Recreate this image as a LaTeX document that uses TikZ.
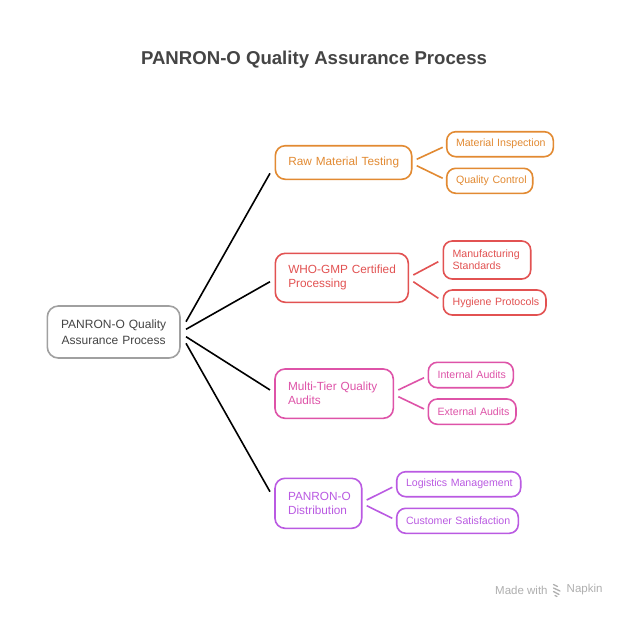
\documentclass[tikz,border=0pt]{standalone}
\usepackage{fontspec}
\setmainfont{Liberation Sans}
\usetikzlibrary{calc}
\definecolor{cOr}{RGB}{226,138,50}
\definecolor{cRd}{RGB}{226,82,82}
\definecolor{cPk}{RGB}{222,83,168}
\definecolor{cPu}{RGB}{186,90,226}
\definecolor{cGy}{RGB}{160,160,160}
\definecolor{cTx}{RGB}{68,68,68}
\definecolor{cWm}{RGB}{175,175,175}
\tikzset{
  cat/.style={draw=#1, text=#1, line width=1.6pt, rounded corners=10pt, anchor=north west,
    align=left, inner ysep=0pt, inner xsep=13pt, outer sep=0pt,
    font=\fontsize{11.8}{14}\selectfont},
  leaf/.style={draw=#1, text=#1, line width=1.6pt, rounded corners=9pt, anchor=north west,
    align=left, inner ysep=0pt, inner xsep=9.3pt, outer sep=0pt,
    font=\fontsize{10.6}{11.7}\selectfont},
  rootbox/.style={draw=cGy, text=cTx, line width=1.6pt, rounded corners=11pt, anchor=north west,
    align=center, inner ysep=0pt, inner xsep=0pt, outer sep=0pt,
    font=\fontsize{12}{15.7}\selectfont},
  trunk/.style={line width=1.6pt, black},
  twig/.style={line width=1.6pt, draw=#1},
}
\begin{document}
\begin{tikzpicture}[x=1pt,y=-1pt]
\path[use as bounding box, fill=white] (0,0) rectangle (628,618);

\node[font=\bfseries\fontsize{18.6}{22}\selectfont, text=cTx] (title) at (314,60) {PANRON-O Quality Assurance Process};

\node[rootbox, minimum width=132.7pt, minimum height=52pt, text width=132.7pt] (root) at (47.3,306) {PANRON-O Quality\\Assurance Process};

\node[cat=cOr, minimum height=33.6pt, text width=110.4pt] (raw) at (275.3,145.7) {\mbox{Raw Material Testing}};
\node[leaf=cOr, minimum height=25pt, text width=88pt] (matins) at (446.7,131.7) {\mbox{Material Inspection}};
\node[leaf=cOr, minimum height=25pt, text width=67.4pt] (qc) at (446.7,168.3) {\mbox{Quality Control}};

\node[cat=cRd, minimum height=49pt, text width=107pt] (who) at (275.3,253.3) {\mbox{WHO-GMP Certified}\\\mbox{Processing}};
\node[leaf=cRd, minimum height=38pt, text width=68.8pt] (manuf) at (443.3,241) {\mbox{Manufacturing}\\\mbox{Standards}};
\node[leaf=cRd, minimum height=25pt, text width=84.1pt] (hyg) at (443.3,290) {\mbox{Hygiene Protocols}};

\node[cat=cPk, minimum height=49.3pt, text width=92.3pt] (multi) at (275,369) {\mbox{Multi-Tier Quality}\\\mbox{Audits}};
\node[leaf=cPk, minimum height=25.4pt, text width=66.4pt] (int) at (428.3,362.3) {\mbox{Internal Audits}};
\node[leaf=cPk, minimum height=25.3pt, text width=69.1pt] (ext) at (428.3,399) {\mbox{External Audits}};

\node[cat=cPu, minimum height=50pt, text width=60.7pt] (dist) at (275,478.3) {\mbox{PANRON-O}\\\mbox{Distribution}};
\node[leaf=cPu, minimum height=25pt, text width=105.4pt] (log) at (396.7,471.7) {\mbox{Logistics Management}};
\node[leaf=cPu, minimum height=25pt, text width=103pt] (cust) at (396.7,508.3) {\mbox{Customer Satisfaction}};

% trunk connectors
\draw[trunk] ([shift={(6,-10.3)}]root.east) -- ([shift={(-5.3,10.8)}]raw.west);
\draw[trunk] ([shift={(6,-2.7)}]root.east) -- ([shift={(-5.3,3.9)}]who.west);
\draw[trunk] ([shift={(6,4.7)}]root.east) -- ([shift={(-5,-3.7)}]multi.west);
\draw[trunk] ([shift={(6,11.3)}]root.east) -- ([shift={(-5,-11.6)}]dist.west);

% twig connectors
\draw[twig=cOr] ([shift={(5,-3.2)}]raw.east) -- ([shift={(-4,3.1)}]matins.west);
\draw[twig=cOr] ([shift={(5,3.2)}]raw.east) -- ([shift={(-4,-2.5)}]qc.west);
\draw[twig=cRd] ([shift={(5,-2.8)}]who.east) -- ([shift={(-5,1.7)}]manuf.west);
\draw[twig=cRd] ([shift={(5,3.9)}]who.east) -- ([shift={(-5,-4.2)}]hyg.west);
\draw[twig=cPk] ([shift={(5,-3.7)}]multi.east) -- ([shift={(-4.3,2.7)}]int.west);
\draw[twig=cPk] ([shift={(5,3)}]multi.east) -- ([shift={(-4.3,-2.7)}]ext.west);
\draw[twig=cPu] ([shift={(5,-3.3)}]dist.east) -- ([shift={(-4.4,3.1)}]log.west);
\draw[twig=cPu] ([shift={(5,2.4)}]dist.east) -- ([shift={(-4.4,-2.5)}]cust.west);

% watermark
\node[anchor=west, inner sep=0pt, text=cWm, font=\fontsize{11.5}{13}\selectfont] (wm1) at (495,590) {Made with};
\node[anchor=west, inner sep=0pt, text=cWm, font=\fontsize{11.5}{13}\selectfont] (wm2) at (566.5,590) {Napkin};
\draw[cWm, line width=1.3pt, line cap=round] (553.5,584.5) -- (557.5,586.5) (553.5,588) -- (560,591) (553.5,591.5) -- (559,594.5) (555,595.5) -- (557,596.5);
\end{tikzpicture}
\end{document}
